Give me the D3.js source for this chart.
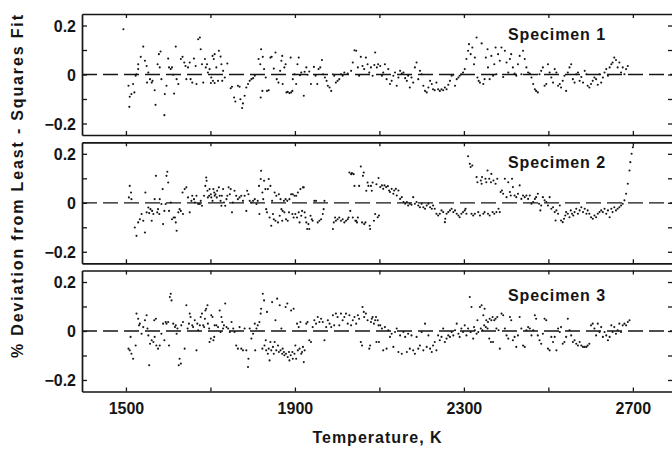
<!DOCTYPE html>
<html><head><meta charset="utf-8">
<script src="https://cdn.jsdelivr.net/npm/d3@7"></script>
<style>html,body{margin:0;padding:0;background:#fff;}svg{display:block;}</style>
</head><body>
<svg id="chart" width="672" height="454"></svg>
<script>
// ---- data: [temperature K, % deviation] ----
const specimen1 = [
[1494,.185],[1506,-.046],[1508,-.132],[1509,-.091],[1513,-.080],[1517,-.039],[1520,-.073],[1523,-.005],[1525,.001],[1529,.022],[1529,.042],[1535,.072],[1541,.114],[1545,.056],[1549,.035],[1550,-.033],[1553,.008],[1557,-.019],[1561,-.033],[1563,-.026],[1568,-.064],[1570,-.124],[1575,.042],[1578,.083],[1580,.029],[1582,.094],[1584,-.019],[1591,-.166],[1592,-.080],[1596,-.046],[1600,.065],[1602,.029],[1606,.022],[1609,.029],[1612,-.001],[1614,-.078],[1618,.114],[1620,-.019],[1624,-.039],[1630,.063],[1634,.072],[1638,.049],[1641,.035],[1643,-.019],[1647,.029],[1651,.049],[1653,-.019],[1657,-.033],[1661,.065],[1665,.035],[1667,-.039],[1671,.144],[1675,.151],[1677,.103],[1680,.042],[1683,-.033],[1687,.063],[1689,.029],[1692,.042],[1694,.008],[1698,.022],[1701,-.035],[1702,-.012],[1705,.076],[1706,-.026],[1708,.063],[1710,.083],[1710,-.035],[1714,.029],[1718,-.026],[1720,.097],[1724,.073],[1726,.042],[1728,-.026],[1730,.015],[1734,-.012],[1740,.045],[1748,-.056],[1751,-.050],[1756,-.094],[1759,-.110],[1765,-.046],[1769,-.050],[1771,-.101],[1775,-.137],[1777,-.118],[1781,-.087],[1785,-.053],[1789,-.039],[1793,-.026],[1797,-.019],[1801,-.015],[1805,-.005],[1814,.063],[1818,.042],[1819,-.094],[1820,.103],[1823,-.067],[1824,.072],[1827,.022],[1831,-.012],[1834,-.067],[1838,-.064],[1842,.069],[1845,.072],[1850,.024],[1854,.090],[1857,-.019],[1861,-.033],[1865,.015],[1868,.056],[1870,.076],[1871,-.039],[1875,.029],[1878,.042],[1880,-.073],[1883,-.071],[1887,-.076],[1890,.069],[1891,-.073],[1894,-.067],[1895,-.019],[1899,.001],[1903,-.039],[1906,.042],[1909,.069],[1912,-.003],[1915,.008],[1921,-.087],[1923,.011],[1927,.029],[1930,-.001],[1934,.012],[1938,-.039],[1945,.031],[1949,-.005],[1953,-.039],[1956,.022],[1960,.029],[1964,.059],[1967,.001],[1971,-.012],[1975,-.026],[1978,-.046],[1982,-.053],[1986,-.067],[1990,.001],[1993,-.005],[1997,-.033],[2001,-.026],[2005,-.019],[2009,.001],[2013,-.005],[2017,.008],[2025,.004],[2033,.015],[2037,.049],[2041,.099],[2045,.097],[2049,.029],[2052,-.005],[2056,.072],[2060,.035],[2064,.022],[2068,.069],[2072,.042],[2076,.008],[2080,.029],[2084,-.005],[2088,.039],[2090,.090],[2094,.029],[2097,.042],
[2102,.035],[2106,-.005],[2109,.008],[2113,.042],[2117,-.019],[2121,.022],[2125,-.039],[2129,-.026],[2133,-.005],[2137,.008],[2141,-.046],[2145,-.012],[2149,.015],[2153,.004],[2157,.008],[2161,-.015],[2165,-.026],[2168,-.005],[2172,-.053],[2176,-.012],[2180,-.033],[2184,.029],[2188,.049],[2192,-.019],[2196,.015],[2200,.001],[2204,-.046],[2208,-.067],[2212,-.073],[2216,-.053],[2220,-.026],[2224,-.039],[2227,-.060],[2231,-.064],[2235,-.033],[2239,-.060],[2243,-.067],[2247,-.060],[2251,-.064],[2255,-.053],[2259,-.060],[2263,-.042],[2267,-.026],[2271,-.005],[2275,-.001],[2279,-.046],[2283,-.019],[2287,-.012],[2290,-.005],[2294,.001],[2298,.008],[2302,.022],[2306,.063],[2310,.097],[2312,.124],[2316,.083],[2320,.110],[2324,.042],[2326,.069],[2330,.151],[2332,-.012],[2335,-.026],[2338,-.033],[2342,.127],[2346,-.039],[2349,-.019],[2352,.069],[2356,.103],[2357,.029],[2361,-.019],[2365,.076],[2369,-.005],[2372,.042],[2375,.110],[2377,.001],[2381,.083],[2385,.056],[2389,.110],[2393,-.010],[2397,.097],[2401,.049],[2405,.008],[2409,.063],[2412,.083],[2416,.029],[2420,.004],[2424,-.005],[2428,.042],[2432,.076],[2436,.001],[2440,.097],[2444,.063],[2448,.029],[2452,.008],[2456,.004],[2460,-.012],[2464,-.039],[2468,-.060],[2471,-.067],[2475,-.073],[2479,.001],[2483,.015],[2487,.029],[2491,-.046],[2495,-.039],[2499,.042],[2503,.008],[2507,-.012],[2511,-.033],[2515,.022],[2519,.008],[2523,-.046],[2527,-.039],[2530,-.053],[2534,-.026],[2538,-.005],[2542,-.067],[2546,.008],[2550,.029],[2554,.042],[2558,-.019],[2562,-.033],[2566,.001],[2570,.008],[2574,-.026],[2578,-.010],[2582,-.033],[2586,.015],[2590,.001],[2593,-.046],[2597,-.053],[2601,-.039],[2605,-.026],[2609,-.012],[2613,-.019],[2617,-.042],[2621,.001],[2625,-.033],[2629,-.012],[2633,.008],[2637,.022],[2641,-.005],[2645,.029],[2649,.042],[2652,.049],[2656,.069],[2660,.059],[2664,.029],[2668,.049],[2672,.008],[2676,.029],[2680,.001],[2684,.022],[2688,.035]
];
const specimen2 = [
[1509,.069],[1512,.042],[1507,.022],[1513,.015],[1521,-.101],[1525,-.135],[1529,-.080],[1533,-.067],[1537,-.046],[1541,-.073],[1545,-.121],[1546,.042],[1549,-.039],[1553,-.019],[1555,-.042],[1558,-.026],[1561,-.073],[1562,-.033],[1565,-.046],[1568,.015],[1571,.110],[1574,-.039],[1576,-.026],[1579,-.046],[1580,.015],[1584,-.005],[1587,.056],[1588,-.087],[1591,-.033],[1594,-.005],[1596,.110],[1598,.127],[1600,.083],[1602,-.033],[1606,.001],[1609,-.067],[1613,-.060],[1616,-.060],[1618,-.080],[1620,-.114],[1624,-.039],[1627,-.026],[1630,-.033],[1634,.042],[1635,-.046],[1639,.056],[1643,.063],[1647,.022],[1651,-.039],[1655,.008],[1657,.029],[1661,.015],[1663,.001],[1667,.029],[1671,-.005],[1675,-.005],[1677,.008],[1680,-.012],[1685,.029],[1688,.069],[1690,.103],[1691,.090],[1693,.049],[1694,.022],[1697,.029],[1698,.056],[1701,.035],[1702,.022],[1705,.008],[1707,.056],[1709,.042],[1710,.029],[1712,.035],[1715,.022],[1716,.049],[1720,.063],[1722,.029],[1724,.008],[1726,-.012],[1727,.029],[1730,.056],[1732,.001],[1735,-.012],[1738,.015],[1740,.029],[1743,.063],[1746,.035],[1748,.056],[1751,-.039],[1753,.001],[1757,.049],[1761,.029],[1765,.015],[1769,.022],[1773,.029],[1777,.008],[1781,.029],[1785,-.033],[1787,.049],[1790,.035],[1793,.008],[1797,.001],[1801,.008],[1805,.015],[1809,-.005],[1812,.008],[1815,.069],[1816,-.046],[1819,.097],[1820,.131],[1823,.042],[1825,.015],[1827,.090],[1830,.056],[1832,-.026],[1834,-.039],[1836,.056],[1838,.097],[1840,-.060],[1842,.069],[1844,-.094],[1846,.008],[1848,-.046],[1850,-.067],[1852,.042],[1854,-.073],[1856,.029],[1860,-.080],[1862,.035],[1864,-.053],[1866,.015],[1868,-.026],[1870,-.073],[1871,-.033],[1874,.008],[1875,-.039],[1878,.015],[1879,-.067],[1882,.008],[1883,-.073],[1886,-.039],[1887,.015],[1891,.035],[1894,-.046],[1895,.035],[1897,-.060],[1899,.029],[1901,-.046],[1903,.029],[1905,-.060],[1907,.042],[1909,-.039],[1911,-.080],[1913,.056],[1915,-.053],[1917,-.033],[1919,.063],[1921,.063],[1923,-.039],[1925,-.060],[1927,-.080],[1929,-.107],[1932,-.087],[1934,-.107],[1937,-.053],[1940,-.067],[1942,-.073],[1946,.008],[1950,.008],[1954,-.080],[1958,-.073],[1962,-.067],[1966,-.046],[1968,-.026],[1970,.008],[1990,-.107],[1992,-.080],[1995,-.060],[1997,-.073],[2001,-.067],[2005,-.060],[2009,-.073],[2013,-.067],[2017,-.080],[2021,-.073],[2025,-.067],[2027,-.060],[2029,.124],[2031,-.033],[2033,.117],[2035,.121],[2037,-.060],[2039,.117],[2041,.069],[2043,-.073],[2045,-.073],[2047,-.080],[2049,-.060],[2052,.069],[2056,.148],[2059,-.080],[2061,.110],[2063,.124],[2064,-.087],[2067,-.080],[2069,.049],[2072,.083],[2074,.069],[2077,-.094],[2078,-.107],[2080,.069],[2082,.049],[2084,.083],[2087,-.073],[2090,-.046],[2093,.076],[2096,-.059],[2098,.101],[2099,-.052],
[2102,.064],[2106,.071],[2109,.057],[2112,.071],[2116,.064],[2120,.068],[2123,.050],[2125,.044],[2129,.057],[2133,.037],[2135,.050],[2139,.057],[2141,.030],[2145,.050],[2149,.016],[2153,.023],[2157,.003],[2161,-.004],[2165,.003],[2168,-.011],[2172,-.004],[2176,-.008],[2180,.023],[2184,-.004],[2188,.003],[2192,-.011],[2196,-.018],[2200,-.004],[2204,-.018],[2208,-.024],[2212,-.011],[2216,-.004],[2220,-.018],[2224,-.024],[2227,-.011],[2231,-.024],[2235,-.045],[2239,-.052],[2243,-.045],[2247,-.031],[2251,-.038],[2255,-.079],[2256,-.065],[2259,-.045],[2263,-.038],[2267,-.031],[2271,-.024],[2275,-.038],[2279,-.031],[2283,-.045],[2287,-.052],[2290,-.059],[2294,-.045],[2298,-.038],[2302,-.031],[2304,-.024],[2306,-.045],[2310,.190],[2314,.159],[2316,.146],[2320,.152],[2318,-.045],[2322,-.052],[2326,-.045],[2330,.105],[2332,.084],[2334,-.038],[2338,-.052],[2340,.091],[2342,.078],[2343,.105],[2346,-.045],[2349,-.038],[2351,.098],[2353,.084],[2356,.132],[2357,-.045],[2360,.098],[2361,-.052],[2364,.084],[2365,.118],[2368,-.038],[2370,.091],[2372,-.045],[2375,.078],[2377,-.038],[2379,.098],[2382,-.024],[2385,-.038],[2387,.044],[2390,.050],[2393,.037],[2397,.098],[2401,.023],[2405,.084],[2409,.044],[2411,.030],[2414,.098],[2416,.064],[2420,.030],[2424,.023],[2428,.037],[2432,.071],[2436,.016],[2440,.030],[2444,.023],[2448,.030],[2452,.016],[2456,.030],[2460,-.004],[2464,.003],[2468,.016],[2471,.023],[2475,.037],[2478,-.004],[2481,-.031],[2483,-.011],[2487,.023],[2491,.010],[2495,.003],[2499,-.011],[2503,.023],[2507,-.024],[2511,-.018],[2515,-.038],[2517,-.072],[2519,-.031],[2523,-.045],[2527,-.011],[2530,-.072],[2534,-.079],[2537,-.065],[2540,-.052],[2542,-.038],[2546,-.045],[2550,-.059],[2553,-.031],[2556,-.045],[2559,-.052],[2562,-.038],[2566,-.024],[2570,-.045],[2574,-.031],[2578,-.018],[2582,-.038],[2586,-.024],[2590,-.045],[2593,-.031],[2597,-.045],[2601,-.059],[2605,-.065],[2609,-.052],[2613,-.059],[2617,-.045],[2621,-.038],[2625,-.031],[2629,-.038],[2633,-.024],[2637,-.045],[2641,-.031],[2645,-.059],[2649,-.024],[2652,-.038],[2656,-.018],[2660,-.031],[2664,-.024],[2668,-.018],[2672,-.011],[2676,-.004],[2680,.010],[2684,.037],[2688,.078],[2692,.132],[2694,.166],[2697,.200],[2700,.227]
];
const specimen3 = [
[1506,-.072],[1509,-.079],[1517,-.113],[1513,-.093],[1511,-.024],[1523,-.059],[1525,.071],[1529,.050],[1531,.023],[1533,.030],[1537,-.011],[1541,.016],[1545,.044],[1549,.064],[1551,.010],[1553,-.018],[1555,-.140],[1557,-.052],[1561,-.038],[1565,-.045],[1567,.044],[1568,-.024],[1571,.050],[1572,-.059],[1576,-.072],[1580,-.059],[1584,-.011],[1588,.030],[1591,-.038],[1594,.037],[1596,.030],[1600,.037],[1602,-.059],[1604,.139],[1606,.152],[1608,.125],[1612,.030],[1616,.016],[1618,.023],[1620,-.011],[1622,.010],[1625,-.140],[1627,-.113],[1630,-.133],[1631,.023],[1635,.037],[1639,-.072],[1643,.105],[1646,.010],[1649,.030],[1651,.071],[1653,.057],[1657,.023],[1659,.016],[1663,.044],[1667,-.079],[1669,.030],[1671,.003],[1675,.023],[1677,.057],[1680,.071],[1683,.023],[1685,.016],[1687,.050],[1688,.084],[1690,.091],[1693,.105],[1694,.030],[1697,.010],[1698,-.045],[1701,-.031],[1702,.064],[1705,.057],[1707,-.038],[1709,-.024],[1710,.023],[1714,.023],[1718,.016],[1722,.084],[1724,-.004],[1726,.057],[1728,.037],[1730,.010],[1732,.023],[1735,.112],[1738,.016],[1742,.010],[1746,-.004],[1750,.037],[1754,.010],[1757,-.004],[1761,-.059],[1765,-.072],[1769,.016],[1773,-.072],[1777,-.079],[1781,.010],[1785,-.079],[1789,-.147],[1790,-.113],[1793,.010],[1797,-.031],[1801,-.011],[1805,.030],[1806,-.079],[1809,.010],[1812,.023],[1816,.037],[1819,.071],[1820,.091],[1823,-.072],[1824,.152],[1827,.125],[1828,-.059],[1831,-.038],[1832,-.079],[1834,.078],[1836,-.093],[1838,-.072],[1840,-.120],[1842,-.045],[1844,-.079],[1846,.118],[1848,-.065],[1850,-.093],[1852,-.045],[1854,.044],[1856,-.079],[1858,.132],[1860,-.059],[1862,-.086],[1864,.105],[1866,-.079],[1868,.010],[1870,-.093],[1871,-.072],[1874,-.086],[1875,-.099],[1878,.098],[1879,-.093],[1882,.112],[1883,-.106],[1886,-.086],[1887,-.120],[1890,-.099],[1891,.084],[1894,-.086],[1895,-.113],[1897,.091],[1899,-.093],[1901,-.059],[1903,-.113],[1905,.030],[1907,-.079],[1909,.016],[1911,-.072],[1913,.037],[1915,-.093],[1917,-.086],[1919,-.065],[1921,-.127],[1923,-.079],[1927,.030],[1930,.037],[1934,-.038],[1938,-.045],[1942,.016],[1946,.044],[1950,.030],[1954,.057],[1958,.037],[1962,.050],[1966,.037],[1970,-.038],[1974,.016],[1978,.044],[1982,.030],[1986,.016],[1990,.064],[1993,.023],[1997,.071],[2001,.057],[2005,.023],[2009,.071],[2013,.044],[2017,.057],[2021,.071],[2025,.030],[2029,.064],[2033,.023],[2037,.044],[2041,.057],[2045,.030],[2049,.064],[2052,.050],[2056,-.045],[2059,-.059],[2060,.098],[2063,.078],[2064,.057],[2068,.071],[2072,.044],[2076,-.072],[2078,-.059],[2080,.037],[2082,.050],[2084,.057],[2087,.030],[2090,.044],[2093,-.045],[2096,.044],[2098,.023],
[2092,.057],[2099,-.045],[2102,.023],[2106,.010],[2109,-.079],[2113,.016],[2117,-.072],[2121,.003],[2125,-.024],[2129,-.011],[2133,-.065],[2137,-.004],[2141,.010],[2145,-.086],[2149,-.018],[2153,-.093],[2157,-.004],[2161,-.024],[2165,-.086],[2168,-.011],[2172,-.072],[2176,-.018],[2180,-.079],[2184,-.093],[2188,-.024],[2192,-.072],[2196,-.059],[2200,-.004],[2204,-.079],[2208,.030],[2212,-.065],[2216,-.018],[2220,-.072],[2224,-.086],[2227,-.059],[2231,-.045],[2235,-.079],[2239,-.018],[2243,-.038],[2247,-.024],[2251,.010],[2255,-.045],[2259,-.031],[2263,-.018],[2267,-.024],[2271,-.004],[2275,-.018],[2279,.003],[2283,.030],[2287,-.011],[2290,-.024],[2294,.010],[2298,-.004],[2302,.023],[2306,-.018],[2310,.010],[2314,.139],[2316,-.004],[2318,.098],[2322,-.031],[2324,.016],[2326,.003],[2330,-.011],[2332,.044],[2334,-.004],[2338,.098],[2340,.010],[2342,.105],[2344,.003],[2346,.064],[2348,.023],[2349,.091],[2352,.016],[2353,.044],[2356,.010],[2357,.037],[2360,-.031],[2361,.050],[2364,-.045],[2365,.044],[2368,.057],[2369,-.045],[2372,.044],[2375,.050],[2377,.010],[2379,.057],[2382,.003],[2385,-.072],[2389,.071],[2393,.064],[2397,.010],[2401,-.018],[2405,-.031],[2409,.057],[2412,.044],[2416,-.038],[2420,-.024],[2424,-.065],[2428,-.018],[2432,.057],[2436,.010],[2440,-.059],[2444,-.065],[2448,.003],[2452,.016],[2456,.010],[2460,-.018],[2464,.003],[2468,.064],[2471,.050],[2475,-.018],[2479,-.038],[2483,-.052],[2487,-.011],[2491,.050],[2495,.044],[2499,-.072],[2503,-.079],[2507,-.024],[2511,-.045],[2515,-.024],[2519,-.079],[2523,.010],[2527,-.004],[2530,.016],[2534,-.052],[2538,-.045],[2542,-.024],[2546,.050],[2550,.003],[2554,-.018],[2558,-.045],[2562,-.038],[2566,-.052],[2570,-.059],[2574,-.045],[2578,-.059],[2582,-.065],[2586,-.065],[2590,-.065],[2593,-.059],[2597,-.052],[2601,.023],[2605,.030],[2609,.010],[2613,-.018],[2617,.030],[2621,-.004],[2625,.016],[2629,-.024],[2633,-.004],[2637,-.018],[2641,-.038],[2645,-.024],[2649,.023],[2652,-.004],[2656,.016],[2660,-.011],[2664,.003],[2668,.030],[2672,-.004],[2676,.023],[2680,.030],[2684,.023],[2688,.037],[2692,.044]
];
const specimens = [specimen1, specimen2, specimen3];
const specimenNames = ["Specimen 1", "Specimen 2", "Specimen 3"];
const xTickValues = [1500, 1700, 1900, 2100, 2300, 2500, 2700];
const xTickLabels = [1500, 1900, 2300, 2700];
const yTickValues = [-0.2, -0.1, 0, 0.1, 0.2];
const yTickLabels = [-0.2, 0, 0.2];
const xTitle = "Temperature, K";
const yTitle = "% Deviation from Least - Squares Fit";

// ---- layout ----
const svg = d3.select("#chart");
const left = 82, right = 673;
const panelTops = [14, 142.3, 270.5];
const panelH = 121;
const nameBaselines = [40, 168.2, 300.7];
const ink = "#151515";
const font = "'Liberation Sans', Arial, Helvetica, sans-serif";

const x = d3.scaleLinear().domain([1396, 2795]).range([left, right]);

specimens.forEach((data, i) => {
  const top = panelTops[i], bottom = top + panelH;
  const y = d3.scaleLinear().domain([-0.247, 0.247]).range([bottom, top]);
  const g = svg.append("g");

  // zero line (dashed)
  g.append("line").attr("x1", left).attr("x2", right)
    .attr("y1", y(0)).attr("y2", y(0))
    .attr("stroke", ink).attr("stroke-width", 1.3)
    .attr("stroke-dasharray", "15,6");

  // points
  g.append("g").selectAll("circle").data(data).join("circle")
    .attr("cx", d => x(d[0])).attr("cy", d => y(d[1]))
    .attr("r", 1.05).attr("fill", ink);

  // axes with inward ticks
  const axTop = d3.axisTop(x).tickValues(xTickValues).tickSize(-4).tickSizeOuter(0).tickFormat("");
  const axBot = d3.axisBottom(x).tickValues(xTickValues).tickSize(-4).tickSizeOuter(0)
    .tickFormat(d => (i === 2 && xTickLabels.includes(d)) ? d : "");
  const axL = d3.axisLeft(y).tickValues(yTickValues).tickSize(-5).tickSizeOuter(0)
    .tickFormat(d => yTickLabels.includes(d) ? d3.format("")(d) : "");
  const axR = d3.axisRight(y).tickValues(yTickValues).tickSize(-5).tickSizeOuter(0).tickFormat("");

  const gt = g.append("g").attr("transform", `translate(0,${top})`).call(axTop);
  const gb = g.append("g").attr("transform", `translate(0,${bottom})`).call(axBot);
  const gl = g.append("g").attr("transform", `translate(${left},0)`).call(axL);
  const gr = g.append("g").attr("transform", `translate(${right},0)`).call(axR);

  [gt, gb, gl, gr].forEach(a => {
    a.selectAll(".domain").attr("stroke", ink).attr("stroke-width", 1.7);
    a.selectAll(".tick line").attr("stroke", ink).attr("stroke-width", 1.3);
    a.selectAll(".tick text").attr("fill", ink)
      .style("font-family", font).style("font-weight", "bold").style("font-size", "16px");
  });
  gb.selectAll(".tick text").attr("y", 20).attr("dy", 0).attr("dominant-baseline", "auto")
    .attr("transform", "translate(0,0)");
  gb.selectAll(".tick text").attr("y", bottom > 380 ? 414 - bottom + 0 : 0).attr("dy", 0);
  gl.selectAll(".tick text").attr("x", -6).attr("dy", "0.36em");

  // specimen name
  g.append("text").attr("x", 508).attr("y", nameBaselines[i])
    .attr("fill", ink).style("font-family", font).style("font-weight", "bold")
    .style("font-size", "16px").style("letter-spacing", "0.9px")
    .text(specimenNames[i]);
});

// axis titles
svg.append("text").attr("x", (left + right) / 2).attr("y", 443)
  .attr("text-anchor", "middle").attr("fill", ink)
  .style("font-family", font).style("font-weight", "bold").style("font-size", "16px")
  .style("letter-spacing", "1px").text(xTitle);

svg.append("text").attr("transform", "translate(23,186.5) rotate(-90)")
  .attr("text-anchor", "middle").attr("fill", ink)
  .attr("textLength", 343).attr("lengthAdjust", "spacing")
  .style("font-family", font).style("font-weight", "bold").style("font-size", "16px")
  .text(yTitle);
</script>
</body></html>
